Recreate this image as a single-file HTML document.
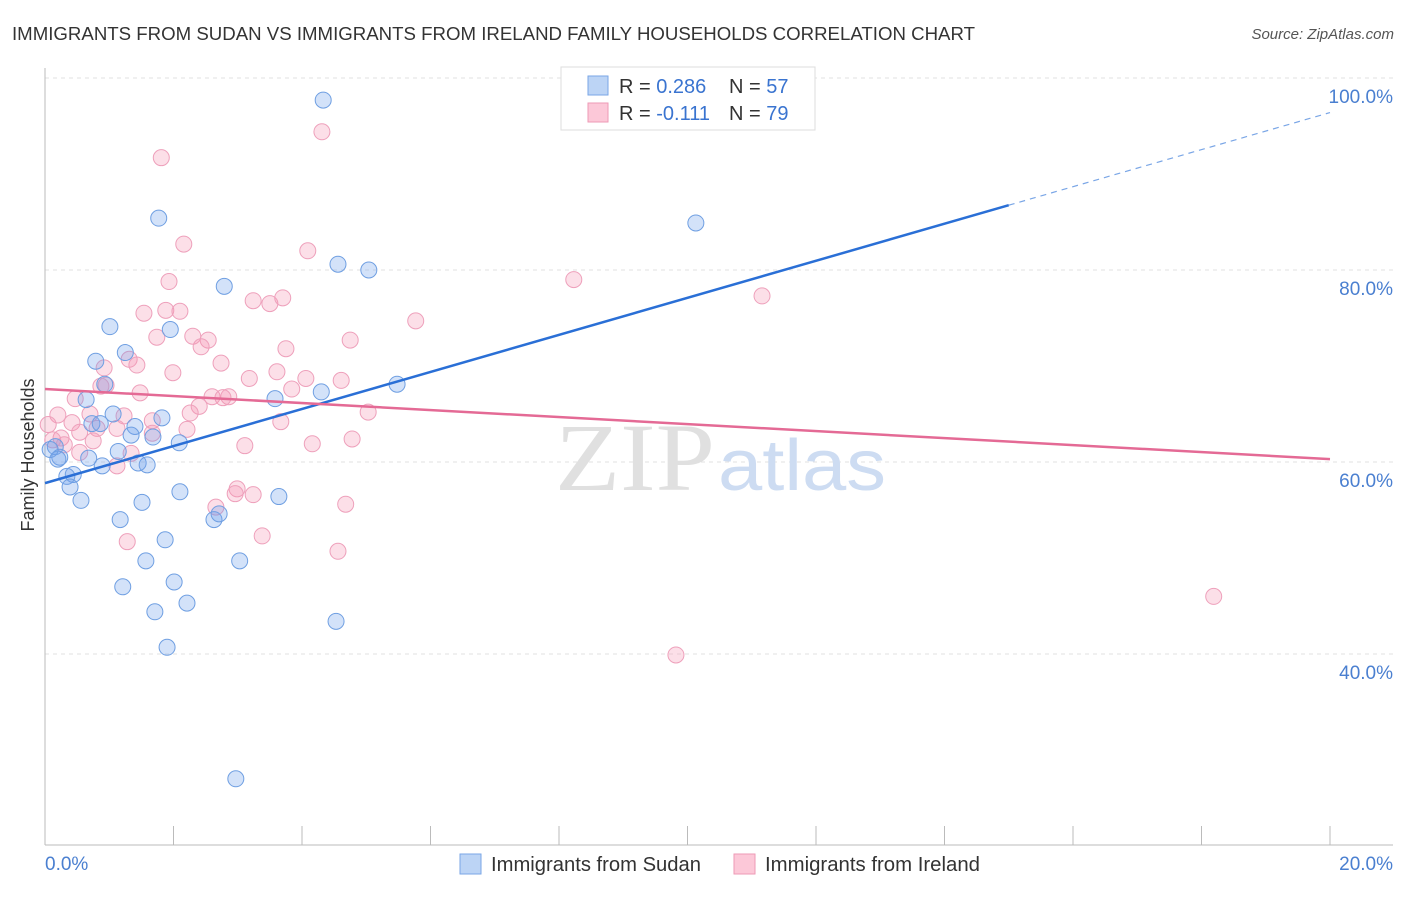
<!DOCTYPE html>
<html><head><meta charset="utf-8"><style>
body{margin:0;background:#fff;font-family:"Liberation Sans",sans-serif;}
</style></head><body>
<svg id="chart" width="1406" height="892" xmlns="http://www.w3.org/2000/svg">
<text x="12" y="40" font-size="18" fill="#333" textLength="963" lengthAdjust="spacingAndGlyphs">IMMIGRANTS FROM SUDAN VS IMMIGRANTS FROM IRELAND FAMILY HOUSEHOLDS CORRELATION CHART</text>
<text x="1394" y="39" font-size="15" fill="#555" font-style="italic" text-anchor="end">Source: ZipAtlas.com</text>
<g id="grid"></g>
<text x="715" y="490" font-size="96" fill="#e0e0e0" font-family="Liberation Serif" text-anchor="end" textLength="160" lengthAdjust="spacingAndGlyphs">ZIP</text>
<text x="718" y="490" font-size="72" fill="#cddcf2" textLength="168" lengthAdjust="spacingAndGlyphs">atlas</text>
<line x1="45" y1="68" x2="45" y2="845" stroke="#bbb"/>
<line x1="45" y1="845" x2="1393" y2="845" stroke="#bbb"/>
<g id="ticks"></g>
<text transform="translate(34,455) rotate(-90)" font-size="18" fill="#333" text-anchor="middle">Family Households</text>
<g id="pts"></g>
<g id="lines"></g>
<g>
<rect x="561" y="67" width="254" height="63" fill="#fff" stroke="#ddd"/>
<rect x="588" y="76" width="20" height="19" fill="#bcd4f5" stroke="#7aa6e6"/>
<text x="619" y="93" font-size="20" fill="#333">R = <tspan fill="#3a74d0">0.286</tspan></text>
<text x="729" y="93" font-size="20" fill="#333">N = <tspan fill="#3a74d0">57</tspan></text>
<rect x="588" y="103" width="20" height="19" fill="#fcc8d8" stroke="#ee9ab6"/>
<text x="619" y="120" font-size="20" fill="#333">R = <tspan fill="#3a74d0"> -0.111</tspan></text>
<text x="729" y="120" font-size="20" fill="#333">N = <tspan fill="#3a74d0">79</tspan></text>
</g>
<g>
<rect x="460" y="854" width="21" height="20" fill="#bcd4f5" stroke="#7aa6e6"/>
<text x="491" y="871" font-size="20" fill="#333" textLength="210" lengthAdjust="spacingAndGlyphs">Immigrants from Sudan</text>
<rect x="734" y="854" width="21" height="20" fill="#fcc8d8" stroke="#ee9ab6"/>
<text x="765" y="871" font-size="20" fill="#333" textLength="215" lengthAdjust="spacingAndGlyphs">Immigrants from Ireland</text>
</g>
</svg>
<script>
const yTicks=[40,60,80,100];
const yTickLabels=["40.0%","60.0%","80.0%","100.0%"];
const xTickLabels=["0.0%","20.0%"];
const sudanX=[4.33,1.77,10.13,4.56,5.04,2.79,1.01,1.95,1.25,0.79,0.93,5.48,4.30,3.58,0.64,1.06,0.73,0.86,1.40,1.34,1.82,1.68,2.09,0.16,1.14,0.23,0.68,0.89,1.45,1.59,0.44,0.34,0.39,0.56,1.51,2.10,3.64,1.17,2.63,2.71,1.87,1.57,3.03,2.01,1.21,1.71,2.21,4.53,1.90,2.97,0.08,0.20];
const sudanY=[97.7,85.4,84.9,80.6,80.0,78.3,74.1,73.8,71.4,70.5,68.1,68.1,67.3,66.6,66.5,65.0,64.0,64.0,63.7,62.8,64.6,62.6,62.0,61.6,61.1,60.5,60.4,59.6,59.9,59.7,58.7,58.5,57.4,56.0,55.8,56.9,56.4,54.0,54.0,54.6,51.9,49.7,49.7,47.5,47.0,44.4,45.3,43.4,40.7,27.0,61.3,60.3];
const irelandX=[4.31,1.81,2.16,4.09,1.93,8.23,11.16,3.24,3.50,3.70,1.54,1.88,2.10,5.77,1.74,2.30,2.54,4.75,2.43,3.75,1.31,1.43,2.74,0.92,0.95,0.87,3.61,3.18,4.06,4.61,1.99,3.84,1.48,2.60,2.86,2.77,0.47,2.40,2.26,5.03,0.20,0.70,1.23,1.67,0.42,0.05,0.81,1.12,0.54,1.67,3.67,2.21,0.25,0.12,0.75,0.30,3.11,4.16,4.78,1.34,0.54,1.12,2.99,2.96,3.24,2.66,4.68,3.38,1.28,4.56,18.19,9.82];
const irelandY=[94.4,91.7,82.7,82.0,78.8,79.0,77.3,76.8,76.5,77.1,75.5,75.8,75.7,74.7,73.0,73.1,72.7,72.7,72.0,71.8,70.7,70.1,70.3,69.8,68.0,67.9,69.4,68.7,68.7,68.5,69.3,67.6,67.2,66.8,66.8,66.7,66.6,65.8,65.1,65.2,64.9,65.0,64.8,64.3,64.1,63.9,63.5,63.5,63.1,63.0,64.2,63.4,62.5,62.3,62.2,61.8,61.7,61.9,62.4,60.9,61.0,59.6,57.2,56.7,56.6,55.3,55.6,52.3,51.7,50.7,46.0,39.9];
const sudanTrend=[57.8,96.4];
const irelandTrend=[67.6,60.3];
const sudanSolidEnd=15.0;

const NS="http://www.w3.org/2000/svg";
const sx=v=>45+v/20*1285;
const sy=v=>78+(100-v)/20*192;
function mk(tag,attrs,parent){const e=document.createElementNS(NS,tag);for(const k in attrs)e.setAttribute(k,attrs[k]);parent.appendChild(e);return e;}
const grid=document.getElementById('grid'),ticks=document.getElementById('ticks'),pts=document.getElementById('pts'),lines=document.getElementById('lines');
yTicks.forEach((t,i)=>{
  const l=mk('line',{x1:45,x2:1393,y1:sy(t),y2:sy(t),stroke:'#e2e2e2','stroke-dasharray':'4,4'},grid);
  
  
  const tx=mk('text',{x:1393,y:sy(t)+25,'font-size':19,fill:'#4a7fd0','text-anchor':'end'},ticks);
  tx.textContent=yTickLabels[i];
  
  
});
for(let i=1;i<=10;i++){
  const l=mk('line',{x1:sx(i*2),x2:sx(i*2),y1:826,y2:845,stroke:'#bbb'},ticks);
  
  
}
[[0,'start',45],[20,'end',1393]].forEach((d,i)=>{
  const tx=mk('text',{x:d[2],y:870,'font-size':19,fill:'#4a7fd0','text-anchor':d[1]},ticks);
  tx.textContent=xTickLabels[i];
  
  
});
irelandX.forEach((x,i)=>{
  const c=mk('circle',{cx:sx(x),cy:sy(irelandY[i]),r:8,fill:'rgba(244,150,180,0.3)',stroke:'#eea0bb','stroke-width':1},pts);
  
  
});
sudanX.forEach((x,i)=>{
  const c=mk('circle',{cx:sx(x),cy:sy(sudanY[i]),r:8,fill:'rgba(110,160,235,0.3)',stroke:'#6f9fe2','stroke-width':1},pts);
  
  
});
const ty=(tr,x)=>tr[0]+(tr[1]-tr[0])*x/20;
let l1=mk('line',{x1:sx(0),y1:sy(sudanTrend[0]),x2:sx(sudanSolidEnd),y2:sy(ty(sudanTrend,sudanSolidEnd)),stroke:'#2a6fd6','stroke-width':2.5},lines);


let l2=mk('line',{x1:sx(sudanSolidEnd),y1:sy(ty(sudanTrend,sudanSolidEnd)),x2:sx(20),y2:sy(sudanTrend[1]),stroke:'#7aa6e6','stroke-width':1.2,'stroke-dasharray':'6,5'},lines);


let l3=mk('line',{x1:sx(0),y1:sy(irelandTrend[0]),x2:sx(20),y2:sy(irelandTrend[1]),stroke:'#e46a95','stroke-width':2.5},lines);


</script>
</body></html>
